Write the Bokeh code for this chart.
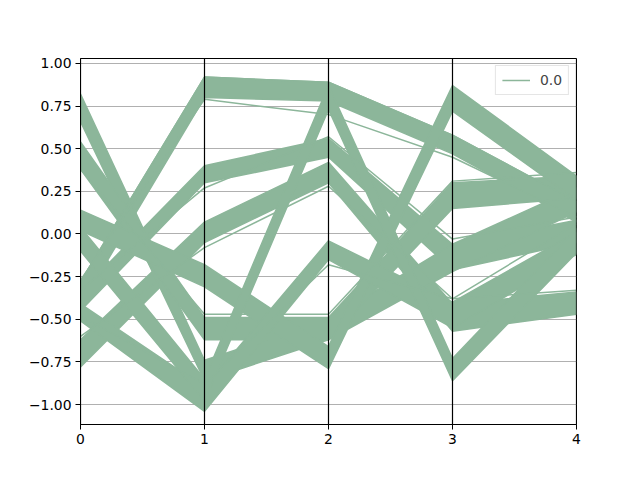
from bokeh.plotting import figure
from bokeh.models import FixedTicker, CustomJSTickFormatter, Range1d, Legend, LegendItem, Span
from bokeh.embed import file_html
from bokeh.resources import INLINE

axis_positions = [0, 1, 2, 3, 4]
x_tick_values = [0, 1, 2, 3, 4]
y_tick_values = [-1.0, -0.75, -0.5, -0.25, 0.0, 0.25, 0.5, 0.75, 1.0]
class_label = "0.0"

# bundles of lines: lower and upper edge at each of the five axes
b1_lo = [-0.42, 0.80, 0.78, 0.47, 0.07]
b1_hi = [-0.28, 0.92, 0.89, 0.58, 0.19]
b2_lo = [-0.78, -0.05, 0.30, -0.57, -0.47]
b2_hi = [-0.62, 0.07, 0.42, -0.41, -0.34]
b3_lo = [-0.45, 0.30, 0.45, -0.21, -0.05]
b3_hi = [-0.34, 0.40, 0.56, -0.06, 0.08]
b4_lo = [0.66, -0.86, -0.62, -0.22, 0.13]
b4_hi = [0.82, -0.74, -0.50, -0.06, 0.27]
b5_lo = [0.38, -0.62, -0.62, 0.15, 0.21]
b5_hi = [0.54, -0.49, -0.49, 0.30, 0.34]
b6_lo = [0.02, -0.31, -0.79, 0.72, 0.20]
b6_hi = [0.14, -0.18, -0.66, 0.87, 0.34]
b7_lo = [-0.51, -1.04, -0.15, -0.55, -0.12]
b7_hi = [-0.41, -0.90, -0.04, -0.40, 0.01]
b8_lo = [-0.10, -0.98, 0.73, -0.86, -0.11]
b8_hi = [0.04, -0.85, 0.87, -0.73, 0.03]

bundles = [(b1_lo, b1_hi), (b2_lo, b2_hi), (b3_lo, b3_hi), (b4_lo, b4_hi),
           (b5_lo, b5_hi), (b6_lo, b6_hi), (b7_lo, b7_hi), (b8_lo, b8_hi)]

# a few stray lines that run beside the bundles
stray1 = [-0.33, 0.27, 0.57, -0.03, 0.10]
stray2 = [-0.60, -0.08, 0.28, -0.38, -0.33]
stray3 = [0.38, -0.47, -0.47, 0.31, 0.36]
stray4 = [-0.27, 0.79, 0.70, 0.45, 0.10]
stray5 = [-0.48, -0.88, -0.18, -0.38, 0.06]
strays = [stray1, stray2, stray3, stray4, stray5]

COLOR = "#8cb69a"
FONT = "DejaVu Sans"
FS = "13.9px"

p = figure(width=640, height=480, output_backend="svg", toolbar_location=None,
           x_range=Range1d(0, 4), y_range=Range1d(-1.117, 1.029),
           min_border_left=80, min_border_right=64, min_border_top=58, min_border_bottom=56)

xs, ys = [], []
for lo, hi in bundles:
    xs.append(axis_positions + axis_positions[::-1])
    ys.append(list(hi) + list(lo)[::-1])
p.patches(xs, ys, fill_color=COLOR, line_color=COLOR, line_width=1.5, line_join="round")
first = p.line(axis_positions, b1_hi, line_color=COLOR, line_width=1.5)
p.multi_line([axis_positions] * len(strays), strays, line_color=COLOR, line_width=1.5)

for xv in axis_positions:
    p.add_layout(Span(location=xv, dimension="height", line_color="black", line_width=1.2))

p.xgrid.visible = False
p.ygrid.grid_line_color = "#b0b0b0"
p.ygrid.grid_line_width = 1
p.ygrid.ticker = FixedTicker(ticks=y_tick_values)

p.xaxis.ticker = FixedTicker(ticks=x_tick_values)
p.yaxis.ticker = FixedTicker(ticks=y_tick_values)
p.yaxis.formatter = CustomJSTickFormatter(
    code="return (tick < -1e-9 ? '\u2212' : '') + Math.abs(tick).toFixed(2);")
for ax in (p.xaxis[0], p.yaxis[0]):
    ax.axis_line_color = "black"
    ax.major_tick_line_color = "black"
    ax.major_tick_out = 5
    ax.major_tick_in = 0
    ax.minor_tick_line_color = None
    ax.major_label_text_font = FONT
    ax.major_label_text_font_size = FS
    ax.major_label_text_color = "black"
    ax.major_label_standoff = 4
p.outline_line_color = "black"
p.outline_line_width = 1
p.outline_line_alpha = 1

legend = Legend(items=[LegendItem(label=class_label, renderers=[first])],
                location="top_right", label_text_font=FONT, label_text_font_size=FS,
                border_line_color="#cccccc", border_line_width=1,
                background_fill_alpha=0.8, glyph_width=28, glyph_height=14,
                label_standoff=10, padding=6, margin=7, spacing=0)
p.add_layout(legend)

open("out.html", "w").write(file_html(p, INLINE))
